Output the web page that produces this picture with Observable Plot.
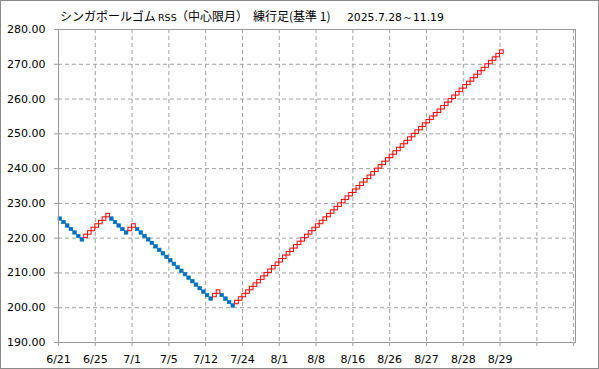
<!DOCTYPE html>
<html>
<head>
<meta charset="utf-8">
<script src="https://cdn.jsdelivr.net/npm/d3@7"></script>
<script src="https://cdn.jsdelivr.net/npm/@observablehq/plot@0.6"></script>
<style>
  html, body { margin: 0; padding: 0; background: #fff; }
  #wrap { position: relative; width: 599px; height: 369px; overflow: hidden; }
  #border { position: absolute; left: 0; top: 0; width: 599px; height: 369px; box-sizing: border-box; border: 1px solid #8a8a8a; pointer-events: none; z-index: 2; }
  #wrap svg { position: absolute; left: 0; top: 0; }
</style>
</head>
<body>
<div id="wrap"><div id="border"></div></div>
<script>
// Title pieces
const titleParts = ["シンガポールゴム", "RSS", "（中心限月）", "練行足(基準 1)", "2025.7.28～11.19"];

// X tick labels (one per 10 boxes)
const xTickLabels = ["6/21", "6/25", "7/1", "7/5", "7/12", "7/24", "8/1", "8/8", "8/16", "8/26", "8/27", "8/28", "8/29", "", ""];

// Y ticks
const yTickValues = [190, 200, 210, 220, 230, 240, 250, 260, 270, 280];

// Lower edge of each box, in order (box size 1)
const boxLows = [
  225, 224, 223, 222, 221, 220, 219,
  220, 221, 222, 223, 224, 225, 226,
  225, 224, 223, 222, 221,
  222, 223,
  222, 221, 220, 219, 218, 217, 216, 215, 214, 213, 212, 211, 210, 209, 208, 207, 206, 205, 204, 203, 202,
  203, 204,
  203, 202, 201, 200,
  201, 202, 203, 204, 205, 206, 207, 208, 209, 210, 211, 212, 213, 214, 215, 216, 217, 218, 219, 220,
  221, 222, 223, 224, 225, 226, 227, 228, 229, 230, 231, 232, 233, 234, 235, 236, 237, 238, 239, 240,
  241, 242, 243, 244, 245, 246, 247, 248, 249, 250, 251, 252, 253, 254, 255, 256, 257, 258, 259, 260,
  261, 262, 263, 264, 265, 266, 267, 268, 269, 270, 271, 272, 273
];

const boxes = boxLows.map((low, i) => ({
  i,
  low,
  up: i > 0 && low > boxLows[i - 1]
}));

const xTicks = xTickLabels.map((_, k) => k * 10);
const gridX = xTicks.slice(1);
const gridY = yTickValues.slice(1, -1);

const gridColor = "#a0a0a0";
const axisColor = "#999999";

const chart = Plot.plot({
  width: 599,
  height: 369,
  marginLeft: 58,
  marginRight: 24,
  marginTop: 29,
  marginBottom: 27,
  style: { fontFamily: "DejaVu Sans", fontSize: "11px", color: "#000", background: "transparent", overflow: "visible" },
  x: { domain: [0, 140.5], axis: null, label: null },
  y: { domain: [190, 280], axis: null, label: null },
  marks: [
    Plot.ruleX(gridX, { stroke: gridColor, strokeDasharray: "4,3" }),
    Plot.ruleY(gridY, { stroke: gridColor, strokeDasharray: "4,3" }),
    Plot.rect(boxes.filter(d => !d.up), {
      x1: "i", x2: d => d.i + 1, y1: "low", y2: d => d.low + 1,
      fill: "#0070c0", stroke: "#0070c0", strokeWidth: 0.6
    }),
    Plot.rect(boxes.filter(d => d.up), {
      x1: "i", x2: d => d.i + 1, y1: "low", y2: d => d.low + 1,
      fill: "white", stroke: "#ff0000", strokeWidth: 1
    }),
    Plot.frame({ stroke: axisColor }),
    Plot.axisX(xTicks, {
      label: null, tickSize: 4, tickPadding: 9, stroke: axisColor, fill: "#000",
      tickFormat: (d) => xTickLabels[Math.round(d / 10)]
    }),
    Plot.axisY(yTickValues, {
      label: null, tickSize: 4, tickPadding: 9, stroke: axisColor, fill: "#000",
      tickFormat: d3.format(".2f")
    })
  ]
});

document.getElementById("wrap").appendChild(chart);

// Title as real text inside the SVG
const svg = d3.select(chart);
const t = svg.append("text")
  .attr("y", 21)
  .attr("fill", "#000")
  .attr("text-anchor", "start")
  .style("font-family", "'Noto Sans CJK JP', 'DejaVu Sans', sans-serif")
  .style("font-size", "12px");
const xs = [60, 158, 176, 253, 347];
titleParts.forEach((p, k) => {
  const ts = t.append("tspan").attr("x", xs[k]).text(p);
  if (k === 1) ts.style("font-family", "'DejaVu Sans', sans-serif").style("font-size", "9.5px");
  if (k === 4) ts.style("font-family", "'DejaVu Sans', sans-serif").style("font-size", "10.8px");
});
</script>
</body>
</html>
